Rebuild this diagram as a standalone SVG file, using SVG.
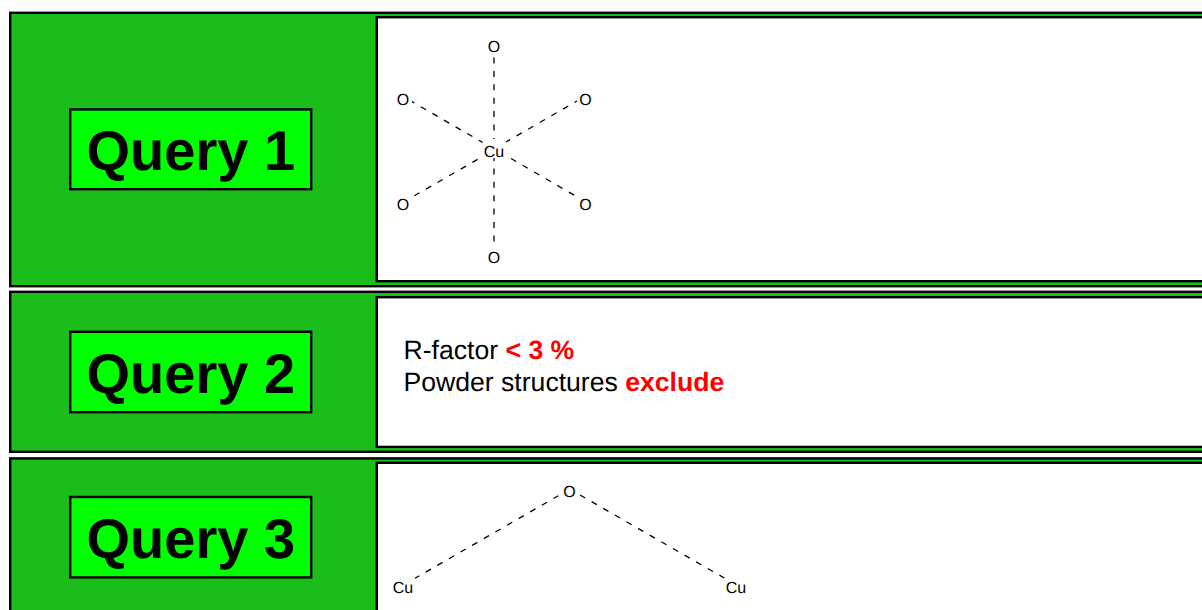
<svg xmlns="http://www.w3.org/2000/svg" width="1202" height="610" viewBox="0 0 1202 610">
<style>
text{text-rendering:geometricPrecision}
.panel{fill:#1bbd1b;stroke:#000;stroke-width:2.4}
.box{fill:#fff;stroke:#000;stroke-width:2.4}
.tag{fill:#0f0;stroke:#000;stroke-width:2.4}
.tag-t{font:bold 56px "Liberation Sans",Arial,sans-serif;fill:#000}
.atom{font:16px "Liberation Sans",Arial,sans-serif;fill:#000;text-anchor:middle}
.bond{stroke:#000;stroke-width:1.3;stroke-dasharray:6 7.4;fill:none}
.body{font:26.6px "Liberation Sans",Arial,sans-serif;fill:#000}
.red{font-weight:bold;fill:#f00}
</style>
<rect width="1202" height="610" fill="#fff"/>
<g id="query1">
<rect class="panel" x="10.2" y="12.8" width="1300" height="273.4"/>
<rect class="box" x="376.8" y="17.2" width="900" height="264"/>
<rect class="tag" x="70.2" y="109.4" width="241" height="79.8"/>
<text class="tag-t" x="86.500" y="170">Query 1</text>
<text class="atom" x="494" y="52">O</text><text class="atom" x="403" y="105">O</text><text class="atom" x="585.500" y="105">O</text>
<text class="atom" x="494" y="157">Cu</text>
<text class="atom" x="403" y="210">O</text><text class="atom" x="585.500" y="210">O</text><text class="atom" x="494" y="263">O</text>
</g>
<g id="query2">
<rect class="panel" x="10.2" y="291.800" width="1300" height="160"/>
<rect class="box" x="376.8" y="297.200" width="900" height="149.700"/>
<rect class="tag" x="70.2" y="331.800" width="241" height="80.400"/>
<text class="tag-t" x="86.500" y="392.700">Query 2</text>
<text class="body" x="403.500" y="358.500">R-factor <tspan class="red">&lt; 3 %</tspan></text>
<text class="body" x="403.500" y="390.500">Powder structures <tspan class="red">exclude</tspan></text>
</g>
<g id="query3">
<rect class="panel" x="10.2" y="458.400" width="1300" height="200"/>
<rect class="box" x="376.8" y="462.800" width="900" height="200"/>
<rect class="tag" x="70.2" y="497" width="241" height="80.400"/>
<text class="tag-t" x="86.500" y="558">Query 3</text>
<text class="atom" x="569.500" y="497">O</text><text class="atom" x="403" y="593">Cu</text><text class="atom" x="736" y="593">Cu</text>
</g>
<g id="connectors">
<line class="bond" x1="494" y1="57.5" x2="494" y2="139"/>
<line class="bond" x1="494" y1="158" x2="494" y2="242" stroke-dashoffset="3"/>
<line class="bond" x1="412" y1="101.6" x2="482.500" y2="142.400" stroke-dashoffset="3.2"/>
<line class="bond" x1="577" y1="101" x2="506" y2="142" stroke-dashoffset="3.2"/>
<line class="bond" x1="414.300" y1="195.800" x2="478.500" y2="158.900"/>
<line class="bond" x1="511" y1="158.500" x2="575" y2="195.700"/>
<line class="bond" x1="415" y1="578.300" x2="558.300" y2="495.700" stroke-dashoffset="1"/>
<line class="bond" x1="580" y1="495" x2="724.300" y2="578"/>
</g>
</svg>
